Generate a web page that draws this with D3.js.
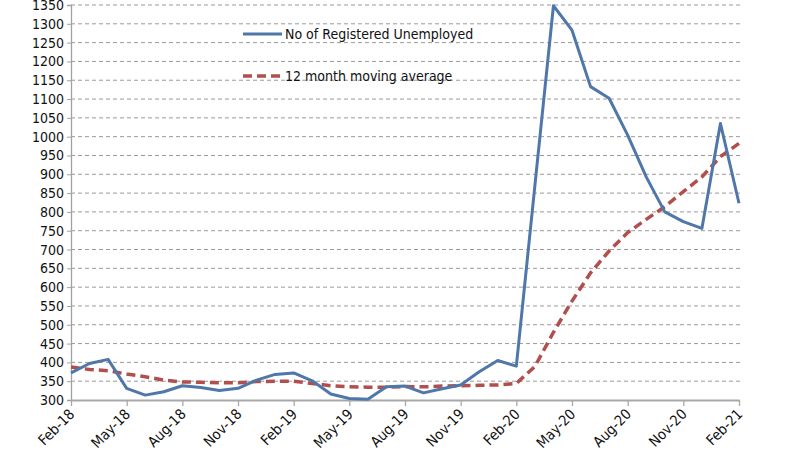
<!DOCTYPE html>
<html><head><meta charset="utf-8">
<script src="https://cdn.jsdelivr.net/npm/d3@7"></script>
<style>body{margin:0;background:#fff}svg{display:block}text{font-family:"DejaVu Sans Condensed","Liberation Sans",sans-serif;}</style>
</head><body><svg id="c" width="808" height="454"></svg>
<script>
const months = ["Feb-18","Mar-18","Apr-18","May-18","Jun-18","Jul-18","Aug-18","Sep-18","Oct-18","Nov-18","Dec-18","Jan-19",
"Feb-19","Mar-19","Apr-19","May-19","Jun-19","Jul-19","Aug-19","Sep-19","Oct-19","Nov-19","Dec-19","Jan-20",
"Feb-20","Mar-20","Apr-20","May-20","Jun-20","Jul-20","Aug-20","Sep-20","Oct-20","Nov-20","Dec-20","Jan-21","Feb-21"];
const registered = [372,397,408,331,313,322,338,333,325,331,353,368,
372,351,316,304,302,335,337,319,330,340,375,405,
390,870,1348,1283,1133,1102,1004,893,800,774,756,1035,823];
const movingAvg = [388,381,378,369,362,353,348,347,346,346,349,350,
350,344,338,335,334,334,336,335,337,338,339,340,
344,389,480,563,638,696,745,780,814,854,893,947,982];
const yTicks = d3.range(300,1351,50);
const xTickLabels = ["Feb-18","May-18","Aug-18","Nov-18","Feb-19","May-19","Aug-19","Nov-19","Feb-20","May-20","Aug-20","Nov-20","Feb-21"];
const seriesNames = ["No of Registered Unemployed","12 month moving average"];

const svg = d3.select("#c");
const L=71,R=739,T=5,B=400;
const x = d3.scalePoint().domain(months).range([L,R]);
const y = d3.scaleLinear().domain([300,1350]).range([B,T]);
const blue="#4f77aa", red="#b04f4c", grid="#9a9a9a";
const FONT='"DejaVu Sans Condensed","Liberation Sans",sans-serif';

// gridlines
svg.append("g").selectAll("line").data(yTicks.filter(v=>v>300)).join("line")
  .attr("x1",L).attr("x2",R+1).attr("y1",d=>y(d)).attr("y2",d=>y(d))
  .attr("stroke",grid).attr("stroke-width",1).attr("stroke-dasharray","4,3");

// y axis
const ya = svg.append("g").attr("transform",`translate(${L},0)`)
  .call(d3.axisLeft(y).tickValues(yTicks).tickSize(4).tickPadding(3).tickFormat(d3.format("d")));
ya.select(".domain").attr("stroke","#a0a0a0").attr("stroke-width",1.3);
ya.selectAll(".tick line").attr("stroke","#a0a0a0");
ya.selectAll("text").attr("font-size",14).attr("fill","#111").style("font-family",FONT);

// x axis
const xa = svg.append("g").attr("transform",`translate(0,${B})`)
  .call(d3.axisBottom(x).tickValues(xTickLabels).tickSize(6).tickSizeOuter(0).tickFormat(d=>d));
xa.select(".domain").attr("stroke","#a8a8a8").attr("stroke-width",2);
xa.selectAll(".tick line").attr("stroke","#a8a8a8").attr("stroke-width",1.3);
xa.selectAll("text").attr("font-size",14.5).attr("fill","#111")
  .style("font-family",FONT)
  .attr("text-anchor","end").attr("dy",null).attr("y",0)
  .attr("transform","translate(4,15) rotate(-45)");

// lines
const line = d3.line().x((d,i)=>x(months[i])).y(d=>y(d));
svg.append("path").datum(movingAvg).attr("d",line).attr("fill","none")
  .attr("stroke",red).attr("stroke-width",3.5).attr("stroke-dasharray","9,5");
svg.append("path").datum(registered).attr("d",line).attr("fill","none")
  .attr("stroke",blue).attr("stroke-width",3).attr("stroke-linejoin","round");

// legend
const lg = svg.append("g");
lg.append("line").attr("x1",243).attr("x2",282).attr("y1",34).attr("y2",34).attr("stroke",blue).attr("stroke-width",3);
lg.append("text").attr("x",285).attr("y",39).attr("font-size",14).attr("fill","#111").text(seriesNames[0]);
lg.append("line").attr("x1",243).attr("x2",280).attr("y1",76).attr("y2",76).attr("stroke",red).attr("stroke-width",3.5).attr("stroke-dasharray","9,5");
lg.append("text").attr("x",285).attr("y",81).attr("font-size",14).attr("fill","#111").text(seriesNames[1]);
</script></body></html>
